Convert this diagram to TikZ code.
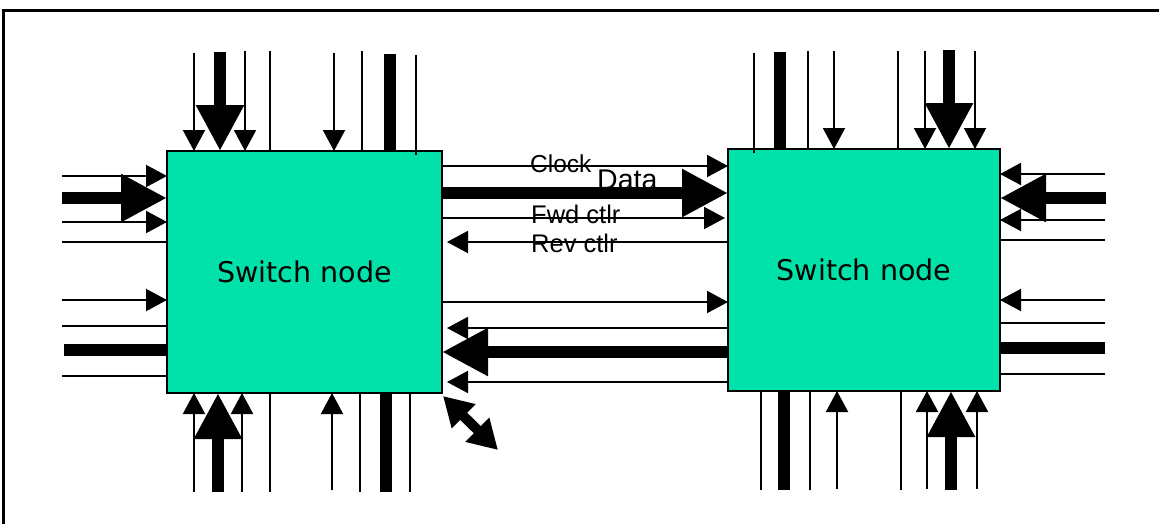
\documentclass[tikz,border=0pt]{standalone}
\usepackage{fontspec}
\setmainfont{Liberation Sans}
\newfontfamily\boxfont{DejaVu Sans}
\usetikzlibrary{arrows.meta}
\definecolor{switchgreen}{RGB}{0,226,170}

\begin{document}
\begin{tikzpicture}[x=1pt,y=-1pt,
    switchbox/.style={draw, line width=2pt, fill=switchgreen, inner sep=0pt, outer sep=0pt,
      font=\boxfont\fontsize{28.5}{32}\selectfont},
    thinline/.style={line width=2pt},
    thickline/.style={line width=12pt},
    thinarrow/.style={line width=2pt, -{Triangle[length=21pt,width=22pt]}},
    thickarrow/.style={line width=12pt, -{Triangle[length=46pt,width=45pt]}},
    wirelabel/.style={inner sep=0pt, anchor=base west}]
    \useasboundingbox (0,0) rectangle (1159,523);

    % outer frame
    \draw[line width=3pt] (3,530) -- (3,10) -- (1165,10);

    % the two switch nodes
    \node[switchbox, minimum width=275pt, minimum height=242pt] (L) at (304.5,272) {Switch node};
    \node[switchbox, minimum width=272pt, minimum height=242pt] (R) at (864,270) {Switch node};

    % left node, top
    \foreach \x/\y in {194/53, 245/51, 334/53}
      \draw[thinarrow] (\x,\y) -- (\x,0 |- L.north);
    \draw[thickarrow] (220,52) -- (220,0 |- L.north);
    \foreach \x in {270, 362}
      \draw[thinline] (\x,51) -- (\x,0 |- L.north);
    \draw[thickline] (390,54) -- (390,0 |- L.north);
    \draw[thinline] (416,55) -- (416,155);

    % left node, bottom
    \foreach \x/\y in {194/492, 242/492, 332/490}
      \draw[thinarrow] (\x,\y) -- (\x,0 |- L.south);
    \draw[thickarrow] (218,492) -- (218,0 |- L.south);
    \foreach \x in {270, 360, 410}
      \draw[thinline] (\x,492) -- (\x,0 |- L.south);
    \draw[thickline] (386,492) -- (386,0 |- L.south);

    % left node, left side
    \foreach \y in {176, 222, 300}
      \draw[thinarrow] (62,\y) -- (L.west |- 0,\y);
    \draw[thickarrow] (62,198) -- (L.west |- 0,198);
    \foreach \y in {242, 326, 376}
      \draw[thinline] (62,\y) -- (L.west |- 0,\y);
    \draw[thickline] (64,350) -- (L.west |- 0,350);

    % right node, top
    \foreach \x in {834, 925, 975}
      \draw[thinarrow] (\x,51) -- (\x,0 |- R.north);
    \draw[thickarrow] (949,50) -- (949,0 |- R.north);
    \foreach \x in {808, 898}
      \draw[thinline] (\x,51) -- (\x,0 |- R.north);
    \draw[thinline] (754,53) -- (754,153);
    \draw[thickline] (780,52) -- (780,0 |- R.north);

    % right node, bottom
    \foreach \x in {837, 927, 977}
      \draw[thinarrow] (\x,489) -- (\x,0 |- R.south);
    \draw[thickarrow] (951,490) -- (951,0 |- R.south);
    \foreach \x in {761, 810, 901}
      \draw[thinline] (\x,490) -- (\x,0 |- R.south);
    \draw[thickline] (784,490) -- (784,0 |- R.south);

    % right node, right side
    \foreach \y in {174, 220, 300}
      \draw[thinarrow] (1105,\y) -- (R.east |- 0,\y);
    \draw[thickarrow] (1106,198) -- (R.east |- 0,198);
    \foreach \y in {240, 323, 374}
      \draw[thinline] (1105,\y) -- (R.east |- 0,\y);
    \draw[thickline] (1105,348) -- (R.east |- 0,348);

    % links between the nodes
    \foreach \y in {166, 302}
      \draw[thinarrow] (L.east |- 0,\y) -- (R.west |- 0,\y);
    \draw[thinarrow] (L.east |- 0,218) -- ([xshift=-3pt]R.west |- 0,218);
    \draw[thickarrow] (L.east |- 0,193) -- (R.west |- 0,193);
    \foreach \y in {242, 328, 382}
      \draw[thinarrow] (R.west |- 0,\y) -- ([xshift=5pt]L.east |- 0,\y);
    \draw[thickarrow] (R.west |- 0,352) -- (L.east |- 0,352);

    % wire labels
    \node[wirelabel, font=\fontsize{24.5}{28}\selectfont] (clock) at (530,172) {Clock};
    \node[wirelabel, font=\fontsize{28.5}{32}\selectfont] (data) at (597,189) {Data};
    \node[wirelabel, font=\fontsize{25.5}{29}\selectfont] (fwd) at (531,223) {Fwd ctlr};
    \node[wirelabel, font=\fontsize{25.5}{29}\selectfont] (rev) at (531,252) {Rev ctlr};

    % corner port
    \coordinate (port) at (498,450);
    \draw[line width=10pt, {Triangle[length=29pt,width=32pt]}-{Triangle[length=29pt,width=32pt]}]
      ([shift={(1pt,-3pt)}]L.south east) -- (port);
\end{tikzpicture}
\end{document}
